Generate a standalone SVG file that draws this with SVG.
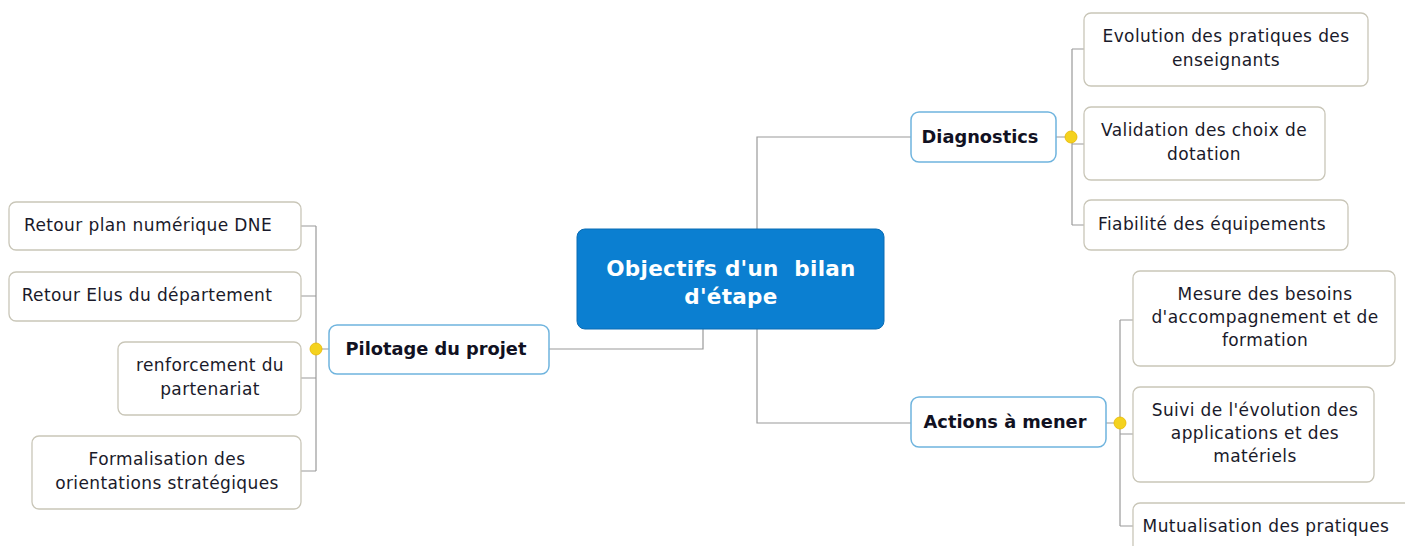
<svg xmlns="http://www.w3.org/2000/svg" width="1405" height="546" viewBox="0 0 1405 546">
<style>
.leaf{fill:#fff;stroke:#c9c6b8;stroke-width:1.3}
.main{fill:#fff;stroke:#6fb4de;stroke-width:1.5}
.lt{font-family:"DejaVu Sans",sans-serif;font-size:17px;letter-spacing:0.4px;fill:#1a1a2a;text-anchor:middle}
.mt{font-family:"DejaVu Sans",sans-serif;font-size:17.8px;font-weight:bold;fill:#111122;text-anchor:middle}
.ct{font-family:"DejaVu Sans",sans-serif;font-size:21.5px;letter-spacing:0.3px;font-weight:bold;fill:#fff;text-anchor:middle;white-space:pre}
.conn{fill:none;stroke:#9a9a9a;stroke-width:1.2}
.dot{fill:#f4d21e;stroke:#e8b800;stroke-width:0.8}
</style>
<rect width="1405" height="546" fill="#fff"/>
<g id="connectors">
<path class="conn" d="M757,229 V137 H911"/>
<path class="conn" d="M757,329 V423 H911"/>
<path class="conn" d="M703,329 V349 H549"/>
<path class="conn" d="M1056,137 H1072 M1072,49 V225 M1072,49 H1084 M1072,144 H1084 M1072,225 H1084"/>
<path class="conn" d="M1106,423 H1120 M1120,320 V526 M1120,320 H1133 M1120,434 H1133 M1120,526 H1133"/>
<path class="conn" d="M329,349 H316 M316,226 V471 M316,226 H301 M316,296 H301 M316,378 H301 M316,471 H301"/>
</g>
<g id="central">
<rect x="577" y="229" width="307" height="100" rx="8" fill="#0b7fd1" stroke="#0a6cb4" stroke-width="1"/>
<text class="ct" x="731" y="276" xml:space="preserve">Objectifs d'un  bilan</text>
<text class="ct" x="731" y="304">d'étape</text>
</g>
<g id="diagnostics">
<rect class="main" x="911" y="112" width="145" height="50" rx="8"/>
<text class="mt" x="980" y="143">Diagnostics</text>
<circle class="dot" cx="1071" cy="137" r="6"/>
</g>
<g id="actions">
<rect class="main" x="911" y="397" width="195" height="50" rx="8"/>
<text class="mt" x="1005" y="428">Actions à mener</text>
<circle class="dot" cx="1120" cy="423" r="6"/>
</g>
<g id="pilotage">
<rect class="main" x="329" y="325" width="220" height="49" rx="8"/>
<text class="mt" x="436" y="355">Pilotage du projet</text>
<circle class="dot" cx="316" cy="349" r="6"/>
</g>
<g id="evolution">
<rect class="leaf" x="1084" y="13" width="284" height="73" rx="7"/>
<text class="lt" x="1226" y="42">Evolution des pratiques des</text>
<text class="lt" x="1226" y="66">enseignants</text>
</g>
<g id="validation">
<rect class="leaf" x="1084" y="107" width="241" height="73" rx="7"/>
<text class="lt" x="1204" y="136">Validation des choix de</text>
<text class="lt" x="1204" y="160">dotation</text>
</g>
<g id="fiabilite">
<rect class="leaf" x="1084" y="200" width="264" height="50" rx="7"/>
<text class="lt" x="1212" y="230">Fiabilité des équipements</text>
</g>
<g id="mesure">
<rect class="leaf" x="1133" y="271" width="262" height="95" rx="7"/>
<text class="lt" x="1265" y="300">Mesure des besoins</text>
<text class="lt" x="1265" y="323">d'accompagnement et de</text>
<text class="lt" x="1265" y="346">formation</text>
</g>
<g id="suivi">
<rect class="leaf" x="1133" y="387" width="241" height="95" rx="7"/>
<text class="lt" x="1255" y="416">Suivi de l'évolution des</text>
<text class="lt" x="1255" y="439">applications et des</text>
<text class="lt" x="1255" y="462">matériels</text>
</g>
<g id="mutualisation">
<rect class="leaf" x="1133" y="503" width="285" height="60" rx="7"/>
<text class="lt" x="1266" y="532">Mutualisation des pratiques</text>
</g>
<g id="retour-dne">
<rect class="leaf" x="9" y="202" width="292" height="48" rx="7"/>
<text class="lt" x="148" y="231">Retour plan numérique DNE</text>
</g>
<g id="retour-elus">
<rect class="leaf" x="9" y="272" width="292" height="49" rx="7"/>
<text class="lt" x="147" y="301">Retour Elus du département</text>
</g>
<g id="renforcement">
<rect class="leaf" x="118" y="342" width="183" height="73" rx="7"/>
<text class="lt" x="210" y="371">renforcement du</text>
<text class="lt" x="210" y="395">partenariat</text>
</g>
<g id="formalisation">
<rect class="leaf" x="32" y="436" width="269" height="73" rx="7"/>
<text class="lt" x="167" y="465">Formalisation des</text>
<text class="lt" x="167" y="489">orientations stratégiques</text>
</g>
</svg>
